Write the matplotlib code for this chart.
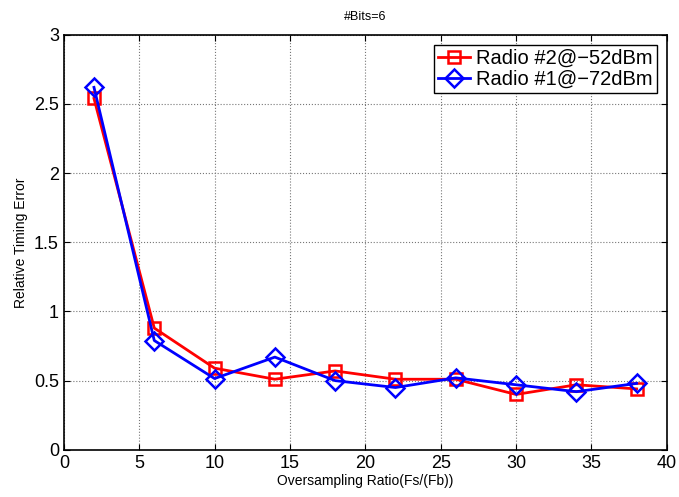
import matplotlib
matplotlib.use('Agg')
import matplotlib.pyplot as plt
import numpy as np

plt.rcParams['font.family'] = ['Liberation Sans', 'DejaVu Sans']

osr = [2, 6, 10, 14, 18, 22, 26, 30, 34, 38]
radio2 = [2.54, 0.88, 0.59, 0.51, 0.57, 0.51, 0.51, 0.40, 0.47, 0.44]
radio1 = [2.62, 0.79, 0.515, 0.67, 0.50, 0.45, 0.52, 0.47, 0.42, 0.48]

fig = plt.figure(figsize=(6.79, 4.97), dpi=100)
ax = fig.add_axes([0.094, 0.095, 0.888, 0.835])

ax.plot(osr, radio2, 'r-s', lw=2, ms=9, mfc='none', mew=1.8, label='Radio #2@\u221252dBm')
ax.plot(osr, radio1, 'b-D', lw=2, ms=9, mfc='none', mew=1.8, label='Radio #1@\u221272dBm')

ax.set_xlim(0, 40)
ax.set_ylim(0, 3)
ax.set_xticks(np.arange(0, 41, 5))
ax.set_yticks(np.arange(0, 3.01, 0.5))
ax.set_yticklabels(['0', '0.5', '1', '1.5', '2', '2.5', '3'])
ax.tick_params(direction='in', labelsize=13, top=True, right=True, length=4)
ax.grid(True, linestyle=':', color='#777777', linewidth=0.8)
for s in ax.spines.values():
    s.set_linewidth(1.2)

ax.set_xlabel('Oversampling Ratio(Fs/(Fb))', fontsize=10, labelpad=2)
ax.set_ylabel('Relative Timing Error', fontsize=10, labelpad=4)
ax.set_title('#Bits=6', fontsize=9, pad=11)

leg = ax.legend(loc='upper right', fontsize=14.5, fancybox=False, framealpha=1,
                edgecolor='black', borderaxespad=0.5, handlelength=1.6,
                handletextpad=0.3, borderpad=0.2, labelspacing=0.1)
leg.get_frame().set_linewidth(1.0)

fig.savefig('out.png', dpi=100)
